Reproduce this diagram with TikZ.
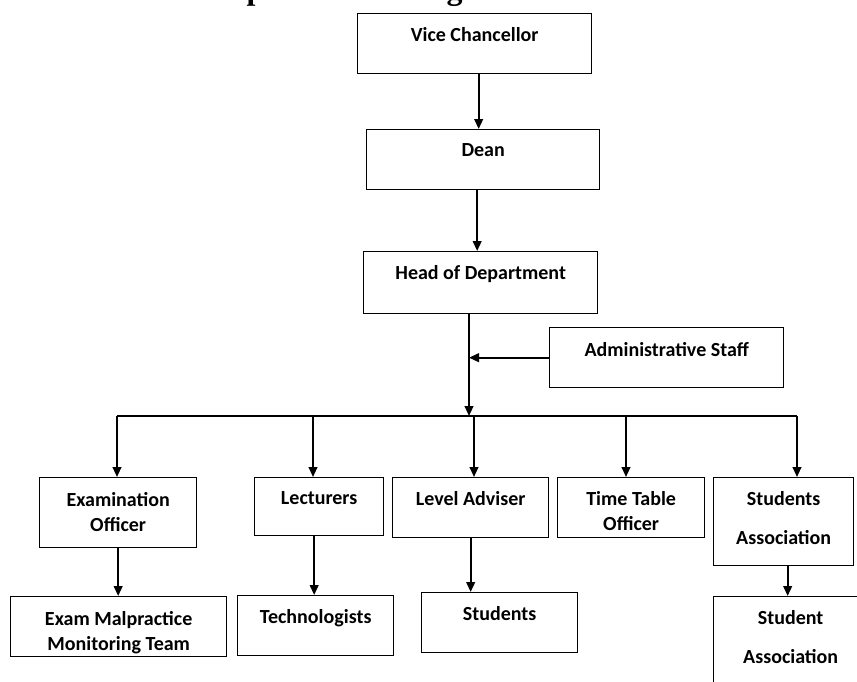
\documentclass[tikz,border=0pt]{standalone}
\usepackage{fontspec}
\setmainfont{Carlito}
\newfontfamily\titlefont{Liberation Serif}
\usetikzlibrary{positioning,arrows.meta}
\newcommand{\pxl}{0.75pt}

\begin{document}
\begin{tikzpicture}[x=0.75pt,y=-0.75pt,
	unit/.style={draw,line width=1pt,fill=white,anchor=north west,inner sep=0pt},
	caption/.style={font=\bfseries\fontsize{15}{18.75}\selectfont,align=center,inner sep=0pt},
	link/.style={line width=1.5pt,->,>={Triangle[length=7.5pt,width=6.5pt]}}]
	\useasboundingbox (0,0) rectangle (857,682);
	% cut-off heading
	\node[font=\titlefont\bfseries\fontsize{24}{29}\selectfont,anchor=base west,inner sep=0pt] (ttl) at (209,-1) {Departmental Organizational Structure: Head of Department};
	% top chain
	\node[unit,minimum width=234*\pxl,minimum height=60*\pxl] (vc) at (357,13) {};
	\node[caption,below=11pt of vc.north] (vc-t) {Vice Chancellor};
	\node[unit,minimum width=233*\pxl,minimum height=60*\pxl] (dean) at (366,129) {};
	\node[caption,below=11pt of dean.north] (dean-t) {Dean};
	\node[unit,minimum width=234*\pxl,minimum height=62*\pxl] (hod) at (363,251) {};
	\node[caption,below=11pt of hod.north] (hod-t) {Head of Department};
	\node[unit,minimum width=234*\pxl,minimum height=60*\pxl] (adm) at (549,327) {};
	\node[caption,below=11pt of adm.north] (adm-t) {Administrative Staff};
	% first row
	\node[unit,minimum width=157*\pxl,minimum height=70*\pxl] (exo) at (39,477) {};
	\node[caption,below=11pt of exo.north] (exo-t) {Examination\\Officer};
	\node[unit,minimum width=129*\pxl,minimum height=58*\pxl] (lec) at (254,477) {};
	\node[caption,below=11pt of lec.north] (lec-t) {Lecturers};
	\node[unit,minimum width=156*\pxl,minimum height=60*\pxl] (lva) at (392,477) {};
	\node[caption,below=11pt of lva.north] (lva-t) {Level Adviser};
	\node[unit,minimum width=147*\pxl,minimum height=60*\pxl] (tto) at (557,477) {};
	\node[caption,below=11pt of tto.north] (tto-t) {Time Table\\Officer};
	\node[unit,minimum width=140*\pxl,minimum height=88*\pxl] (sas) at (713,477) {};
	\node[caption,below=11pt of sas.north] (sas-t) {Students\\[10.5pt]Association};
	% second row
	\node[unit,minimum width=216*\pxl,minimum height=60*\pxl] (emt) at (10,596) {};
	\node[caption,below=11pt of emt.north] (emt-t) {Exam Malpractice\\Monitoring Team};
	\node[unit,minimum width=156*\pxl,minimum height=60*\pxl] (tec) at (237,595) {};
	\node[caption,below=11pt of tec.north] (tec-t) {Technologists};
	\node[unit,minimum width=156*\pxl,minimum height=60*\pxl] (stu) at (421,592) {};
	\node[caption,below=11pt of stu.north] (stu-t) {Students};
	\node[unit,minimum width=154*\pxl,minimum height=100*\pxl] (sa2) at (713,596) {};
	\node[caption,below=11pt of sa2.north] (sa2-t) {Student\\[10.5pt]Association};
	% connectors
	\draw[link] ([xshift=4*\pxl]vc.south) -- ([xshift=4*\pxl]vc.south |- dean.north);
	\draw[link] ([xshift=-6*\pxl]dean.south) -- ([xshift=-6*\pxl]dean.south |- hod.north);
	\coordinate (hub) at (469,416);
	\coordinate (busL) at (117,416);
	\coordinate (busR) at (797,416);
	\draw[link] (hod.south -| hub) -- (hub);
	\draw[link] (adm.west) -- (adm.west -| hub);
	\draw[line width=1.5pt] (busL) -- (busR);
	\foreach \x/\b [count=\i] in {117/exo,313/lec,474/lva,626/tto,797/sas}{
		\coordinate (drop\i) at (\x,416);
		\draw[link] (drop\i) -- (drop\i |- \b.north);
	}
	\draw[link] (exo.south) -- (exo.south |- emt.north);
	\draw[link] ([xshift=-5*\pxl]lec.south) -- ([xshift=-5*\pxl]lec.south |- tec.north);
	\draw[link] (lva.south) -- (lva.south |- stu.north);
	\draw[link] ([xshift=4*\pxl]sas.south) -- ([xshift=4*\pxl]sas.south |- sa2.north);
\end{tikzpicture}
\end{document}
